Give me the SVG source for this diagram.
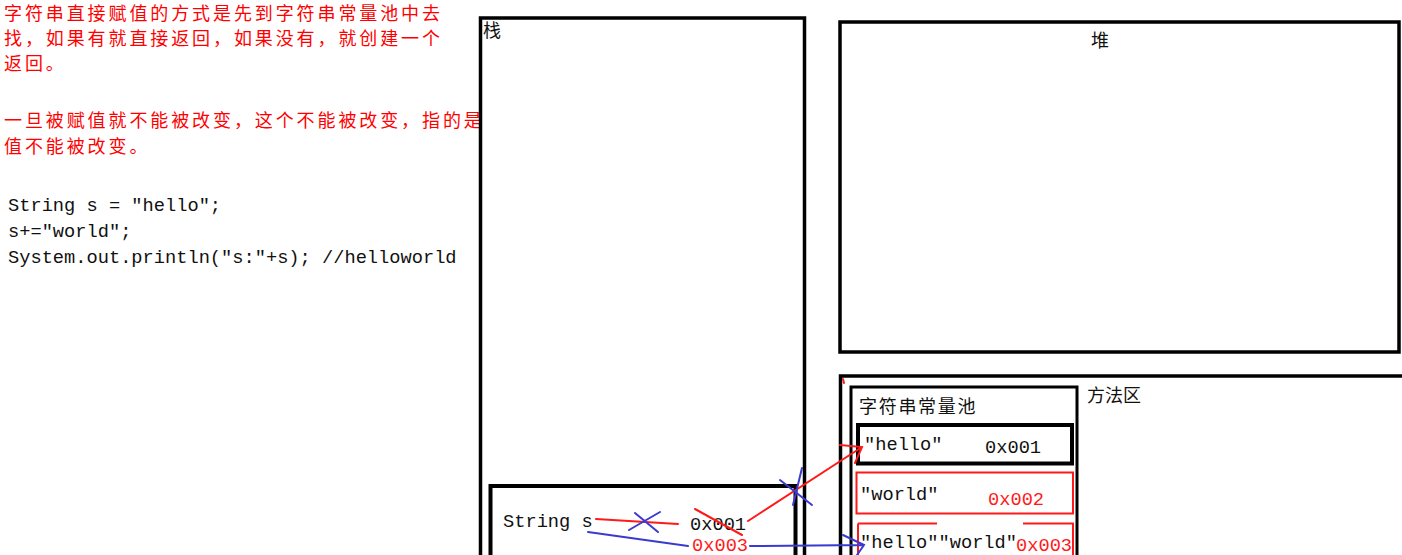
<svg xmlns="http://www.w3.org/2000/svg" width="1402" height="555" viewBox="0 0 1402 555">
<style>
.cjk{font-family:"Noto Sans CJK SC","Noto Sans CJK JP",sans-serif;}
.note{font-family:"Noto Sans CJK SC",sans-serif;font-size:18px;letter-spacing:2.9px;fill:#ff0000;}
.code{font-family:"Liberation Mono","DejaVu Sans Mono",monospace;font-size:18.7px;fill:#111;}
.lbl{font-family:"Noto Sans CJK SC",sans-serif;font-size:18px;fill:#111;}
.box{fill:none;stroke:#000;}
.red{fill:#ff1a1a;}
.rl{stroke:#ff1a1a;stroke-width:2;fill:none;stroke-linecap:round;}
.bl{stroke:#3a3ad0;stroke-width:2;fill:none;stroke-linecap:round;}
</style>
<rect width="1402" height="555" fill="#fff"/>
<g id="notes">
<text class="note" x="4" y="20">字符串直接赋值的方式是先到字符串常量池中去</text>
<text class="note" x="4" y="45">找，如果有就直接返回，如果没有，就创建一个</text>
<text class="note" x="4" y="70">返回。</text>
<text class="note" x="4" y="127">一旦被赋值就不能被改变，这个不能被改变，指的是</text>
<text class="note" x="4" y="153">值不能被改变。</text>
</g>
<g id="code">
<text class="code" x="8" y="211">String s = "hello";</text>
<text class="code" x="8" y="237">s+="world";</text>
<text class="code" x="8" y="263">System.out.println("s:"+s); //helloworld</text>
</g>
<g id="stack">
<rect class="box" x="480.5" y="18" width="324" height="560" stroke-width="3.5"/>
<text class="lbl" x="483" y="37">栈</text>
</g>
<g id="stack-var">
<rect class="box" x="490.5" y="486" width="305" height="90" stroke-width="4"/>
<text class="code" x="503" y="527">String s</text>
<text class="code" x="690" y="530">0x001</text>
<text class="code red" x="692" y="551">0x003</text>
</g>
<g id="heap">
<rect class="box" x="840" y="22" width="559" height="330" stroke-width="3.5"/>
<text class="lbl" x="1100" y="47" text-anchor="middle">堆</text>
</g>
<g id="method-area">
<rect class="box" x="840.5" y="376" width="600" height="220" stroke-width="3.5"/>
<text class="lbl" x="1087" y="402" font-size="19">方法区</text>
<path d="M843 379 L844 383" class="rl" stroke-width="1.5"/>
</g>
<g id="string-pool">
<rect class="box" x="851" y="387" width="226" height="200" stroke-width="3"/>
<text class="lbl" x="859" y="413" font-size="19" letter-spacing="1.7">字符串常量池</text>
</g>
<g id="pool-hello">
<rect class="box" x="858" y="425" width="214" height="38.5" stroke-width="4"/>
<text class="code" x="864" y="450">"hello"</text>
<text class="code" x="985" y="453">0x001</text>
</g>
<g id="pool-world">
<rect x="856.5" y="472.5" width="216.5" height="41" fill="none" stroke="#ff1a1a" stroke-width="2"/>
<text class="code" x="860" y="500">"world"</text>
<text class="code red" x="988" y="505">0x002</text>
</g>
<g id="pool-helloworld">
<path d="M858 523.5 H937 M1023 523.5 H1073 V560 M858 523.5 V560" fill="none" stroke="#ff1a1a" stroke-width="2"/>
<text class="code" x="860" y="548">"hello""world"</text>
<text class="code red" x="1016" y="551">0x003</text>
</g>
<g id="connectors">
<path class="rl" d="M596 519 L678 524"/>
<path class="bl" d="M635 513 L658 532 M629 530 L660 512"/>
<path class="rl" d="M695 509 L742 535"/>
<path class="rl" d="M748 521 L862 447 M840 445 L862 447 L855 463"/>
<path class="bl" d="M780 480 L812 505 M802 468 L793 505"/>
<path class="bl" d="M588 532 L688 546"/>
<path class="bl" d="M750 546 L864 545 M843 535 L864 545 L857 555"/>
</g>
</svg>
